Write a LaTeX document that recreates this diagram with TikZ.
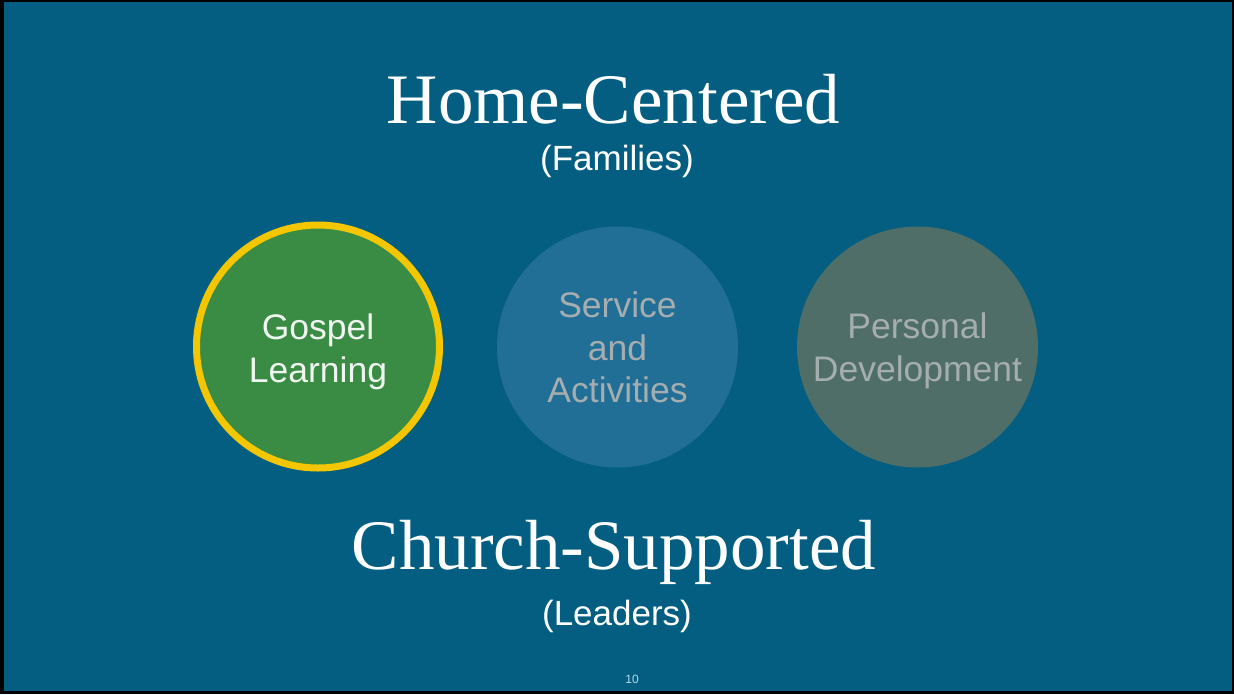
\documentclass[tikz,border=0pt]{standalone}
\usepackage{fontspec}
\setmainfont{Liberation Serif}
\newfontfamily\arialf{Liberation Sans}
\newfontfamily\titlef{Liberation Serif}
\definecolor{bgblue}{HTML}{035E81}
\definecolor{gl}{HTML}{3A8C44}
\definecolor{glring}{HTML}{F3C600}
\definecolor{sa}{HTML}{216F96}
\definecolor{pd}{HTML}{4E6E67}
\definecolor{dimtext}{HTML}{A5ADAF}
\definecolor{pagenum}{HTML}{B5DCEE}
\tikzset{
  title/.style={text=white, font=\titlef\fontsize{71}{76}\selectfont, anchor=base, inner sep=0pt},
  subtitle/.style={text=white, font=\arialf\fontsize{35}{40}\selectfont, anchor=base, inner sep=0pt},
  circlab/.style={font=\arialf\fontsize{35.5}{43}\selectfont, anchor=base, inner sep=0pt},
  bubble/.style={circle, draw=none, inner sep=0pt, minimum size=#1}
}
\begin{document}
\begin{tikzpicture}[x=1pt,y=-1pt]
\fill[black] (0,0) rectangle (1234,694);
\fill[bgblue] (4,2) rectangle (1232,691);
\useasboundingbox (0,0) rectangle (1234,694);
% titles
\node[title] (home) at (613.5,123) {Home-Centered};
\node[subtitle] (fam) at (617,170) {(Families)};
\node[title] (church) at (614,569) {Church-Supported};
\node[subtitle] (lead) at (617,625) {(Leaders)};
% circles
\node[bubble=243pt, fill=gl, draw=glring, line width=7pt] (c1) at (318,346.5) {};
\node[bubble=241pt, fill=sa] (c2) at (617.5,347) {};
\node[bubble=241pt, fill=pd] (c3) at (917.5,347) {};
% labels
\node[circlab, text=white!92!gl] (g1) at (318,339) {Gospel};
\node[circlab, text=white!92!gl] (g2) at (318,382) {Learning};
\node[circlab, text=dimtext] (s1) at (617.5,317) {Service};
\node[circlab, text=dimtext] (s2) at (617.5,360) {and};
\node[circlab, text=dimtext] (s3) at (617.5,402) {Activities};
\node[circlab, text=dimtext] (p1) at (917.5,338) {Personal};
\node[circlab, text=dimtext] (p2) at (917.5,381) {Development};
% page number
\node[font=\arialf\fontsize{12}{14}\selectfont, text=pagenum, anchor=base, inner sep=0pt] (pg) at (632,683) {10};
\end{tikzpicture}
\end{document}
